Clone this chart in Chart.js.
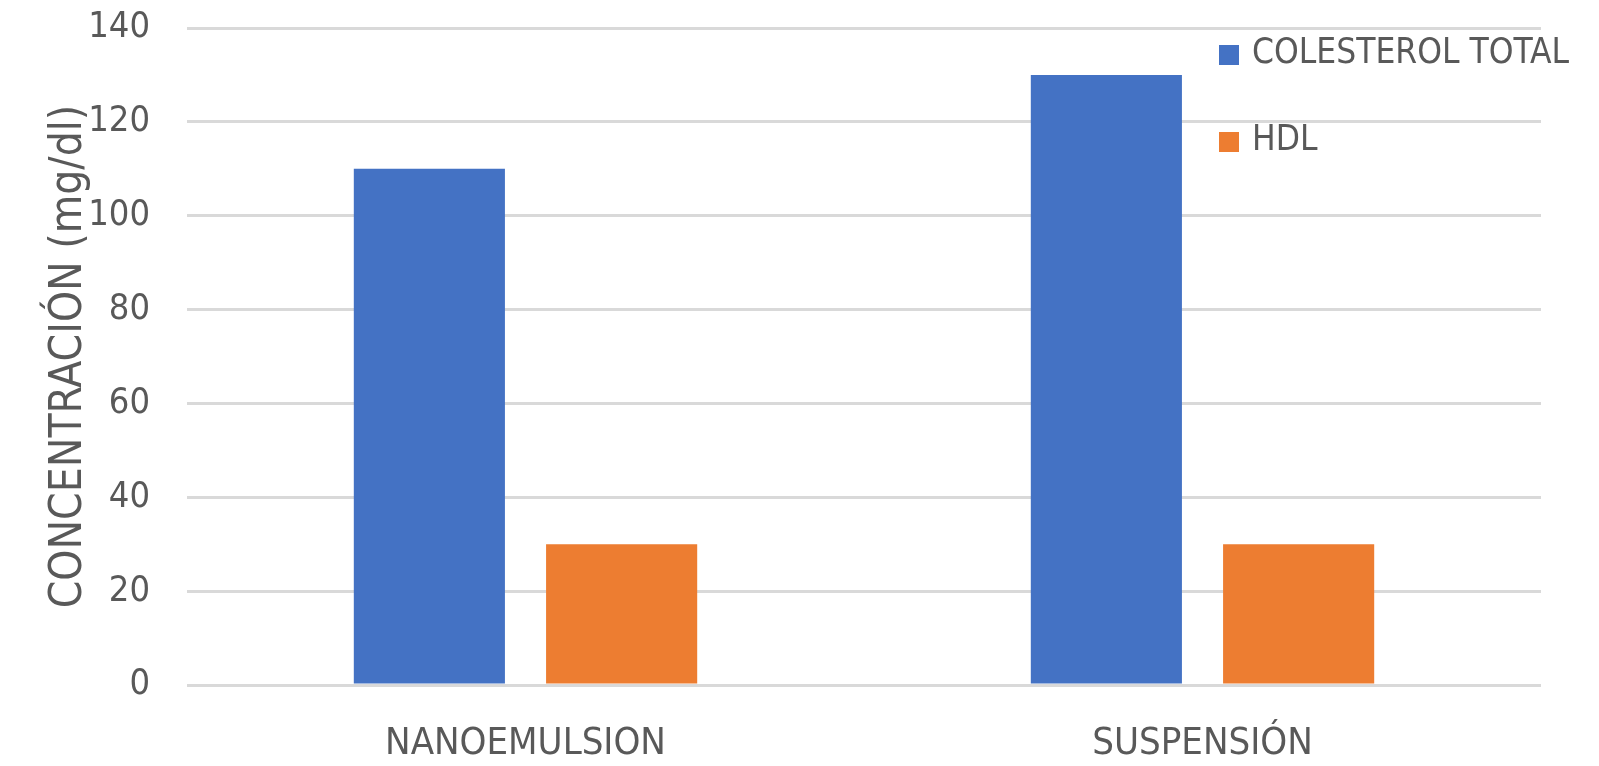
<!DOCTYPE html>
<html>
<head>
<meta charset="utf-8">
<script src="https://cdn.jsdelivr.net/npm/chart.js@4/dist/chart.umd.min.js"></script>
<style>
  html, body { margin: 0; padding: 0; background: #ffffff; }
  #wrap { width: 1599px; height: 766px; }
</style>
</head>
<body>
<div id="wrap"><canvas id="c" width="1599" height="766"></canvas></div>
<script>
// Categories and series
const categories = ['NANOEMULSION', 'SUSPENSIÓN'];
const colesterolTotal = [110, 130];
const hdl = [30, 30];
const seriesNames = ['COLESTEROL TOTAL', 'HDL'];
const yTicks = [0, 20, 40, 60, 80, 100, 120, 140];
const yTitle = 'CONCENTRACIÓN (mg/dl)';

const FONT = "'DejaVu Sans Condensed', 'DejaVu Sans', sans-serif";
const TEXT = '#595959';

// Legend drawn on top of the plot area, near its top-right corner
const overlayLegend = {
  id: 'overlayLegend',
  afterDraw(chart) {
    const ctx = chart.ctx;
    ctx.save();
    ctx.font = '35px ' + FONT;
    ctx.textBaseline = 'middle';
    ctx.textAlign = 'left';
    chart.data.datasets.forEach((ds, i) => {
      const y = 55 + i * 87;
      ctx.fillStyle = ds.backgroundColor;
      ctx.fillRect(1219, y - 10, 20, 20);
      ctx.fillStyle = TEXT;
      ctx.fillText(ds.label, 1252, y - 1);
    });
    ctx.restore();
  }
};

new Chart(document.getElementById('c'), {
  type: 'bar',
  data: {
    labels: categories,
    datasets: [
      { label: seriesNames[0], data: colesterolTotal, backgroundColor: '#4472C4' },
      { label: seriesNames[1], data: hdl, backgroundColor: '#ED7D31' }
    ]
  },
  options: {
    responsive: false,
    animation: false,
    events: [],
    layout: { padding: { top: 28, right: 58, left: 0, bottom: 0 } },
    datasets: {
      bar: { categoryPercentage: 0.568, barPercentage: 0.786 }
    },
    plugins: {
      legend: { display: false },
      tooltip: { enabled: false }
    },
    scales: {
      x: {
        grid: { display: false, drawTicks: false },
        border: { display: false },
        ticks: {
          color: TEXT,
          font: { family: FONT, size: 38 },
          padding: 36,
          maxRotation: 0
        },
        afterFit(scale) {
          scale.height = 81;
          scale.paddingLeft = 0;
          scale.paddingRight = 0;
        }
      },
      y: {
        min: 0,
        max: 140,
        afterBuildTicks(scale) { scale.ticks = yTicks.map(v => ({ value: v })); },
        grid: { color: '#D9D9D9', lineWidth: 3, drawTicks: false },
        border: { display: false },
        ticks: {
          color: TEXT,
          font: { family: FONT, size: 36 },
          padding: 37
        },
        title: {
          display: true,
          text: yTitle,
          color: TEXT,
          font: { family: FONT, size: 44, weight: 'normal' },
          padding: { top: 43, bottom: 0 }
        },
        afterFit(scale) {
          scale.width = 187;
          scale.paddingTop = 0;
          scale.paddingBottom = 0;
        }
      }
    }
  },
  plugins: [overlayLegend]
});
</script>
</body>
</html>
